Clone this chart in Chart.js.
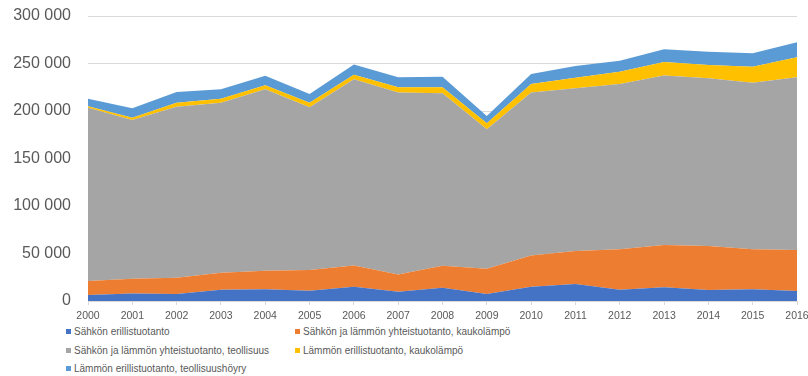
<!DOCTYPE html>
<html>
<head>
<meta charset="utf-8">
<script src="https://cdn.jsdelivr.net/npm/chart.js@4/dist/chart.umd.min.js"></script>
<style>
    html, body { margin: 0; padding: 0; background: #fff; }
    #wrap { position: relative; width: 808px; height: 376px; }
    #chartBox { position: absolute; left: 0; top: 0; width: 808px; height: 325px; }
    .legend-item {
        position: absolute;
        font-family: "Liberation Sans", Arial, sans-serif;
        font-size: 10px;
        color: #595959;
        white-space: nowrap;
        line-height: 12px;
    }
    .legend-item span.box {
        display: inline-block;
        width: 5px;
        height: 5px;
        margin-right: 3px;
        vertical-align: 1px;
    }
</style>
</head>
<body>
<div id="wrap">
    <div id="chartBox"><canvas id="areaChart"></canvas></div>
    <div id="legend"></div>
</div>
<script>
    const years = ['2000', '2001', '2002', '2003', '2004', '2005', '2006', '2007', '2008',
        '2009', '2010', '2011', '2012', '2013', '2014', '2015', '2016'];

    const seriesNames = [
        'Sähkön erillistuotanto',
        'Sähkön ja lämmön yhteistuotanto, kaukolämpö',
        'Sähkön ja lämmön yhteistuotanto, teollisuus',
        'Lämmön erillistuotanto, kaukolämpö',
        'Lämmön erillistuotanto, teollisuushöyry'
    ];

    const sahkoErillis = [6300, 8000, 7400, 11900, 12300, 10900, 15100, 9800, 14000,
        7400, 15100, 17900, 11900, 14400, 11600, 12300, 10500];
    const chpKaukolampo = [14700, 15500, 17200, 17900, 19600, 21700, 22400, 18200, 23200,
        26600, 32900, 34700, 42500, 44500, 46300, 42100, 43200];
    const chpTeollisuus = [182500, 167000, 180000, 179000, 190900, 171300, 195800, 191600, 181400,
        146700, 171600, 171300, 174000, 178600, 176500, 175400, 181700];
    const lampoKaukolampo = [1500, 2500, 4200, 4200, 4200, 4900, 4900, 5300, 6300,
        6300, 8800, 11100, 13000, 14100, 14000, 16900, 21100];
    const lampoTeollisuushoyry = [8000, 10000, 11200, 10000, 10000, 9100, 10800, 10500, 11200,
        7700, 10600, 12400, 11600, 13300, 14100, 14000, 15800];

    const yTicks = [0, 50000, 100000, 150000, 200000, 250000, 300000];

    const colors = ['#4472C4', '#ED7D31', '#A5A5A5', '#FFC000', '#5B9BD5'];
    const allSeries = [sahkoErillis, chpKaukolampo, chpTeollisuus, lampoKaukolampo, lampoTeollisuushoyry];

    const textColor = '#595959';

    function formatThousands(v) {
        return String(v).replace(/\B(?=(\d{3})+(?!\d))/g, ' ');
    }

    const datasets = allSeries.map(function (values, i) {
        return {
            label: seriesNames[i],
            data: values,
            backgroundColor: colors[i],
            borderColor: colors[i],
            borderWidth: 0,
            pointRadius: 0,
            tension: 0,
            fill: i === 0 ? 'origin' : '-1'
        };
    });

    new Chart(document.getElementById('areaChart'), {
        type: 'line',
        data: { labels: years, datasets: datasets },
        options: {
            responsive: true,
            maintainAspectRatio: false,
            animation: false,
            layout: { padding: { top: 16, right: 11, left: 0, bottom: 0 } },
            plugins: {
                legend: { display: false },
                tooltip: { enabled: false }
            },
            scales: {
                x: {
                    offset: false,
                    grid: {
                        drawOnChartArea: false,
                        drawTicks: true,
                        tickLength: 4,
                        color: '#D9D9D9'
                    },
                    border: { display: false },
                    ticks: {
                        color: textColor,
                        padding: 5,
                        maxRotation: 0,
                        autoSkip: false,
                        font: { family: '"Liberation Sans Narrow", "Liberation Sans", sans-serif', size: 10.5 }
                    },
                    afterFit: function (axis) {
                        axis.height = 24;
                        axis.paddingLeft = 0;
                        axis.paddingRight = 0;
                    }
                },
                y: {
                    stacked: true,
                    min: 0,
                    max: 300000,
                    afterBuildTicks: function (axis) {
                        axis.ticks = yTicks.map(function (v) { return { value: v }; });
                    },
                    grid: { color: '#D9D9D9', drawTicks: false },
                    border: { display: false },
                    ticks: {
                        color: textColor,
                        padding: 17,
                        font: { family: '"Liberation Sans", sans-serif', size: 16 },
                        callback: function (value) { return formatThousands(value); }
                    },
                    afterFit: function (axis) {
                        axis.width = 88;
                        axis.paddingTop = 0;
                        axis.paddingBottom = 0;
                    }
                }
            }
        }
    });

    // legend laid out in two columns like the original
    const legendPos = [
        { left: 66, top: 326 },
        { left: 295, top: 326 },
        { left: 66, top: 345 },
        { left: 295, top: 345 },
        { left: 66, top: 363 }
    ];
    let html = '';
    seriesNames.forEach(function (name, i) {
        html += '<div class="legend-item" style="left:' + legendPos[i].left + 'px;top:' + legendPos[i].top + 'px">' +
            '<span class="box" style="background:' + colors[i] + '"></span>' + name + '</div>';
    });
    document.getElementById('legend').innerHTML = html;
</script>
</body>
</html>
